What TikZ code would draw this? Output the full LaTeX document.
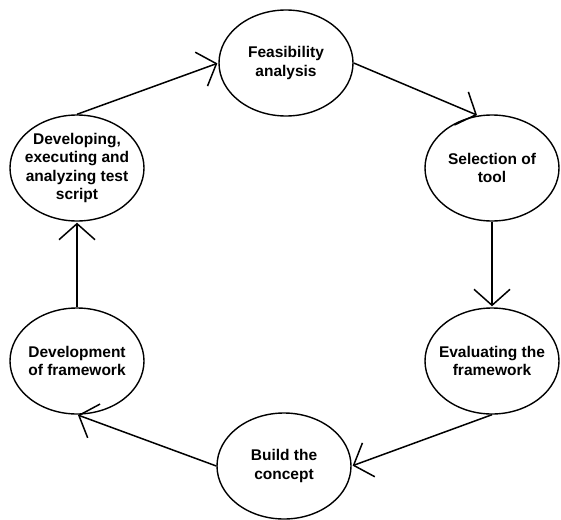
\documentclass[tikz,border=0pt]{standalone}
\usepackage{fontspec}
\setmainfont{Liberation Sans}
\usetikzlibrary{shapes.geometric,arrows.meta}
\tikzset{
  stage/.style={draw, ellipse, line width=1.4pt, minimum width=134pt, minimum height=106pt, inner sep=0pt},
  txt/.style={align=center, font=\bfseries\fontsize{15.5}{18.5}\selectfont, inner sep=0pt},
  flow/.style={line width=1.5pt, -{Straight Barb[length=16pt,width=36pt,line width=1.5pt]}, shorten >=1pt}
}
\begin{document}
\begin{tikzpicture}[x=1pt,y=-1pt]
\useasboundingbox (0,0) rectangle (561,519);
\node[stage, label={[txt, name=tfeas]center:Feasibility\\analysis}] (feas) at (286,63) {};
\node[stage, label={[txt, name=tsel]center:Selection of\\tool}] (sel) at (492,168) {};
\node[stage, label={[txt, name=teval]center:Evaluating the\\framework}] (eval) at (492,361) {};
\node[stage, label={[txt, name=tbuild]center:Build the\\concept}] (build) at (284,466) {};
\node[stage, label={[txt, name=tdev]center:Development\\of framework}] (dev) at (77,361) {};
\node[stage, label={[txt, name=tdevg]center:Developing,\\executing and\\analyzing test\\script}] (devg) at (77,168) {};
\draw[flow] (devg.north) -- (feas.west);
\draw[flow] (feas.east) -- (sel.105);
\draw[flow] (sel.south) -- (eval.north);
\draw[flow] (eval.south) -- (build.east);
\draw[flow] (build.west) -- (dev.south);
\draw[flow] (dev.north) -- (devg.south);
\end{tikzpicture}
\end{document}
